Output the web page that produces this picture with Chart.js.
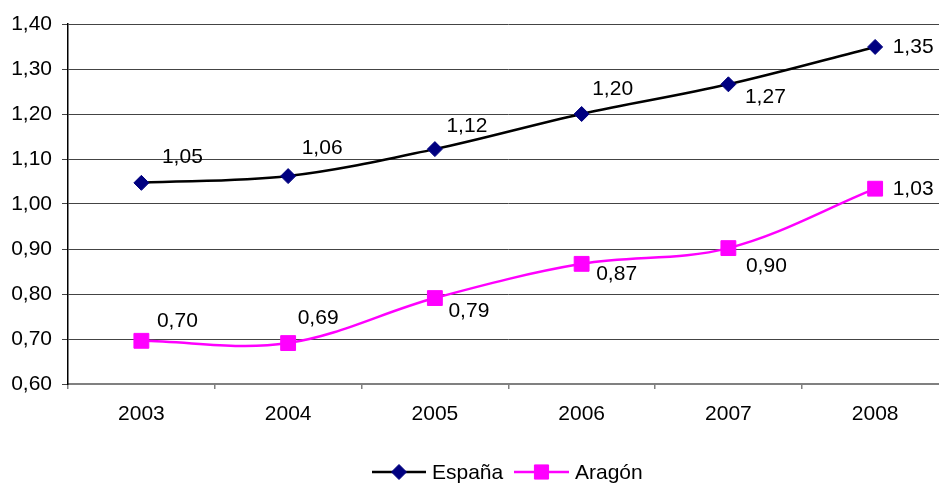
<!DOCTYPE html>
<html>
<head>
<meta charset="utf-8">
<script src="https://cdn.jsdelivr.net/npm/chart.js@4/dist/chart.umd.min.js"></script>
<style>
  html, body { margin: 0; padding: 0; background: #fff; overflow: hidden; width: 939px; height: 483px; }
  #wrap { width: 960px; height: 483px; }
</style>
</head>
<body>
<div id="wrap"><canvas id="c" width="960" height="483"></canvas></div>
<script>
// ---- data ----
const years = ['2003', '2004', '2005', '2006', '2007', '2008'];
const espana = [1.047, 1.062, 1.122, 1.200, 1.266, 1.349];
const aragon = [0.696, 0.691, 0.791, 0.867, 0.902, 1.034];
const seriesNames = ['España', 'Aragón'];
const yTicks = { min: 0.6, max: 1.4, step: 0.1 };

// ---- style ----
const FONT = "'Liberation Sans', Arial, sans-serif";
const FS = 21;
const labelOffsets = [
  [[41, -26], [34, -28], [32, -23], [31, -25], [37, 13], [38, 0]],
  [[36, -20], [30, -25], [34, 13], [35, 10], [38, 18], [38, 1]]
];
const fmt = v => v.toFixed(2).replace('.', ',');

const dataLabels = {
  id: 'dataLabels',
  afterDatasetsDraw(chart) {
    const ctx = chart.ctx;
    ctx.save();
    ctx.font = FS + 'px ' + FONT;
    ctx.fillStyle = '#000';
    ctx.textAlign = 'center';
    ctx.textBaseline = 'middle';
    chart.data.datasets.forEach((ds, di) => {
      const meta = chart.getDatasetMeta(di);
      meta.data.forEach((pt, i) => {
        const o = labelOffsets[di][i];
        ctx.fillText(fmt(ds.data[i]), pt.x + o[0], pt.y + o[1]);
      });
    });
    ctx.restore();
  }
};

const customLegend = {
  id: 'customLegend',
  afterDraw(chart) {
    const ctx = chart.ctx;
    const y = 472;
    const items = [
      { x0: 372, x1: 426, line: '#000', mark: '#000080', style: 'rectRot', r: 7.5, tx: 432 },
      { x0: 514, x1: 569, line: '#FF00FF', mark: '#FF00FF', style: 'rect', r: 10, tx: 575 }
    ];
    ctx.save();
    items.forEach((it, i) => {
      ctx.strokeStyle = it.line;
      ctx.lineWidth = 2.5;
      ctx.beginPath();
      ctx.moveTo(it.x0, y);
      ctx.lineTo(it.x1, y);
      ctx.stroke();
      ctx.fillStyle = it.mark;
      ctx.strokeStyle = it.mark;
      ctx.lineWidth = 1;
      Chart.helpers.drawPoint(ctx, { pointStyle: it.style, radius: it.r, borderWidth: 1 }, (it.x0 + it.x1) / 2, y);
      ctx.fillStyle = '#000';
      ctx.font = FS + 'px ' + FONT;
      ctx.textAlign = 'left';
      ctx.textBaseline = 'middle';
      ctx.fillText(seriesNames[i], it.tx, y + 1);
    });
    ctx.restore();
  }
};

new Chart(document.getElementById('c'), {
  type: 'line',
  data: {
    labels: years,
    datasets: [
      {
        label: seriesNames[0],
        data: espana,
        borderColor: '#000000',
        borderWidth: 2.5,
        backgroundColor: '#000080',
        pointBackgroundColor: '#000080',
        pointBorderColor: '#000080',
        pointStyle: 'rectRot',
        pointRadius: 7.5,
        pointBorderWidth: 1,
        tension: 0.35,
        fill: false
      },
      {
        label: seriesNames[1],
        data: aragon,
        borderColor: '#FF00FF',
        borderWidth: 2.5,
        backgroundColor: '#FF00FF',
        pointBackgroundColor: '#FF00FF',
        pointBorderColor: '#FF00FF',
        pointStyle: 'rect',
        pointRadius: 10.5,
        pointBorderWidth: 1,
        tension: 0.35,
        fill: false
      }
    ]
  },
  options: {
    responsive: false,
    animation: false,
    devicePixelRatio: 1,
    layout: { padding: { top: 24, right: 7, left: 0, bottom: 0 } },
    plugins: { legend: { display: false }, tooltip: { enabled: false } },
    scales: {
      x: {
        offset: true,
        grid: { offset: true, drawOnChartArea: false, drawTicks: true, tickLength: 5, color: '#808080', lineWidth: 1.5 },
        border: { color: '#808080', width: 2 },
        ticks: { font: { family: FONT, size: FS }, color: '#000', padding: 13, maxRotation: 0 },
        afterFit(scale) { scale.height = 99; }
      },
      y: {
        min: yTicks.min,
        max: yTicks.max,
        ticks: {
          stepSize: yTicks.step,
          font: { family: FONT, size: FS },
          color: '#000',
          padding: 10,
          callback: v => fmt(v)
        },
        grid: { color: '#444', lineWidth: 1, tickLength: 6 },
        border: { color: '#000', width: 1.5 },
        afterFit(scale) { scale.width = 68; }
      }
    }
  },
  plugins: [dataLabels, customLegend]
});
</script>
</body>
</html>
